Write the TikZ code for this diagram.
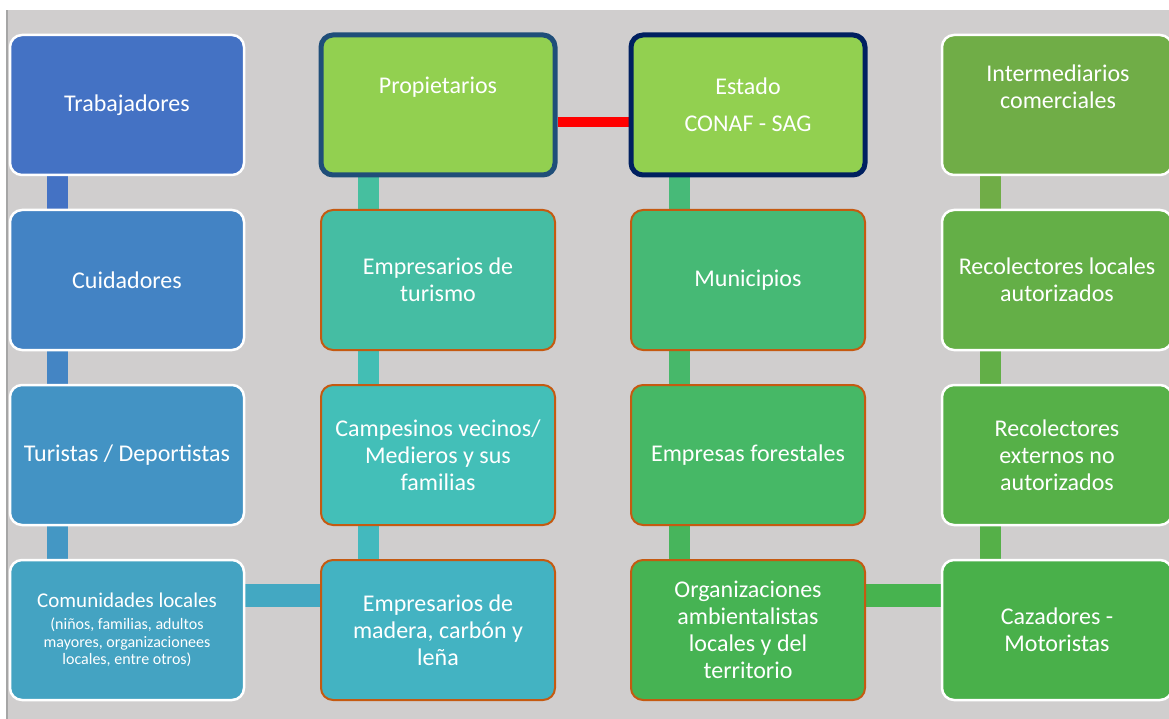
\documentclass[tikz,border=0pt]{standalone}
\usepackage{fontspec}
\setmainfont{Carlito}
\usetikzlibrary{backgrounds}
\definecolor{bggray}{HTML}{D0CECE}
\definecolor{edgegray}{HTML}{A6A6A6}
\definecolor{borderorange}{HTML}{C55A11}
\definecolor{navyA}{HTML}{1F4E79}
\definecolor{navyB}{HTML}{002060}
\definecolor{propgreen}{HTML}{92D050}
\definecolor{c11}{HTML}{4472C4}
\definecolor{c12}{HTML}{4383C4}
\definecolor{c13}{HTML}{4393C4}
\definecolor{c14}{HTML}{44A3C2}
\definecolor{c22}{HTML}{45BDA3}
\definecolor{c23}{HTML}{43BFB8}
\definecolor{c24}{HTML}{43B3C2}
\definecolor{c32}{HTML}{46B975}
\definecolor{c33}{HTML}{46B866}
\definecolor{c34}{HTML}{46B353}
\definecolor{c41}{HTML}{70AD47}
\definecolor{c42}{HTML}{64AF47}
\definecolor{c43}{HTML}{56B048}
\definecolor{c44}{HTML}{49B04A}
\definecolor{b11}{HTML}{4472C4}
\definecolor{b12}{HTML}{4485C4}
\definecolor{b13}{HTML}{4497C4}
\definecolor{b21}{HTML}{46BF9F}
\definecolor{b22}{HTML}{43BEB4}
\definecolor{b23}{HTML}{43B9BE}
\definecolor{b31}{HTML}{47BA78}
\definecolor{b32}{HTML}{47B86A}
\definecolor{b33}{HTML}{47B55C}
\definecolor{b41}{HTML}{70AD47}
\definecolor{b42}{HTML}{62AF47}
\definecolor{b43}{HTML}{55B048}
\definecolor{h1}{HTML}{43A8C2}
\definecolor{h2}{HTML}{47B34F}
\begin{document}
\begin{tikzpicture}[x=1pt,y=-1pt,
  box/.style={rectangle, rounded corners=12pt, minimum width=234pt, minimum height=140pt,
    inner sep=0pt, align=center, text=white,
    font=\fontsize{24}{27}\selectfont},
  wbox/.style={box, draw=white, line width=2.5pt},
  obox/.style={box, draw=borderorange, line width=2pt},
  txt/.style={align=center, text=white, inner sep=0pt, font=\fontsize{24}{27}\selectfont},
  vbar/.style={line width=21pt},
  hbar/.style={line width=23pt}]
\useasboundingbox (0,0) rectangle (1169,719);
\begin{scope}[on background layer]
  \fill[white] (0,0) rectangle (1169,719);
  \fill[bggray] (8,10) rectangle (1169,719);
  \fill[edgegray] (6,10) rectangle (8,719);
\end{scope}
% column 1
\node[wbox, fill=c11] (trab) at (127,105) {Trabajadores};
\node[wbox, fill=c12] (cuid) at (127,280) {Cuidadores};
\node[wbox, fill=c13] (tur) at (127,455) {Turistas / Deportistas};
\node[wbox, fill=c14, font=\fontsize{16}{17.5}\selectfont] (com) at (127,630)
  {{\fontsize{21}{24}\selectfont Comunidades locales}\\[4.5pt](niños, familias, adultos\\mayores, organizacionees\\locales, entre otros)};
% column 2
\node[box, draw=navyA, line width=5pt, fill=propgreen] (prop) at (438,105) {};
\node[txt] (propt) at (438,87) {Propietarios};
\node[obox, fill=c22] (turis) at (438,280) {Empresarios de\\turismo};
\node[obox, fill=c23] (camp) at (438,455) {Campesinos vecinos/\\Medieros y sus\\familias};
\node[obox, fill=c24] (mad) at (438,630) {Empresarios de\\madera, carbón y\\leña};
% column 3
\node[box, draw=navyB, line width=5pt, fill=propgreen] (est) at (748,105) {Estado\\[10pt]CONAF - SAG};
\node[obox, fill=c32] (mun) at (748,280) {Municipios};
\node[obox, fill=c33] (forest) at (748,455) {Empresas forestales};
\node[obox, fill=c34] (org) at (748,630) {Organizaciones\\ambientalistas\\locales y del\\territorio};
% column 4
\node[wbox, fill=c41, minimum width=230pt] (inter) at (1057,105) {};
\node[txt] (intert) at (1058,87) {Intermediarios\\comerciales};
\node[wbox, fill=c42, minimum width=230pt] (recl) at (1057,280) {Recolectores locales\\autorizados};
\node[wbox, fill=c43, minimum width=230pt] (rece) at (1057,455) {Recolectores\\externos no\\autorizados};
\node[wbox, fill=c44, minimum width=230pt] (caz) at (1057,630) {Cazadores -\\Motoristas};
% connectors
\begin{scope}[on background layer]
  \draw[vbar, draw=b11] ([xshift=-70pt]trab.south) -- ([xshift=-70pt]cuid.north);
  \draw[vbar, draw=b12] ([xshift=-70pt]cuid.south) -- ([xshift=-70pt]tur.north);
  \draw[vbar, draw=b13] ([xshift=-70pt]tur.south) -- ([xshift=-70pt]com.north);
  \draw[vbar, draw=b21] ([xshift=-70pt]prop.south) -- ([xshift=-70pt]turis.north);
  \draw[vbar, draw=b22] ([xshift=-70pt]turis.south) -- ([xshift=-70pt]camp.north);
  \draw[vbar, draw=b23] ([xshift=-70pt]camp.south) -- ([xshift=-70pt]mad.north);
  \draw[vbar, draw=b31] ([xshift=-69pt]est.south) -- ([xshift=-69pt]mun.north);
  \draw[vbar, draw=b32] ([xshift=-69pt]mun.south) -- ([xshift=-69pt]forest.north);
  \draw[vbar, draw=b33] ([xshift=-69pt]forest.south) -- ([xshift=-69pt]org.north);
  \draw[vbar, draw=b41] ([xshift=-67pt]inter.south) -- ([xshift=-67pt]recl.north);
  \draw[vbar, draw=b42] ([xshift=-67pt]recl.south) -- ([xshift=-67pt]rece.north);
  \draw[vbar, draw=b43] ([xshift=-67pt]rece.south) -- ([xshift=-67pt]caz.north);
  \draw[line width=10pt, draw=red] ([yshift=-17pt]prop.east) -- ([yshift=-17pt]est.west);
  \draw[hbar, draw=h1] ([yshift=35pt]com.east) -- ([yshift=35pt]mad.west);
  \draw[hbar, draw=h2] ([yshift=35pt]org.east) -- ([yshift=35pt]caz.west);
\end{scope}
\end{tikzpicture}
\end{document}
